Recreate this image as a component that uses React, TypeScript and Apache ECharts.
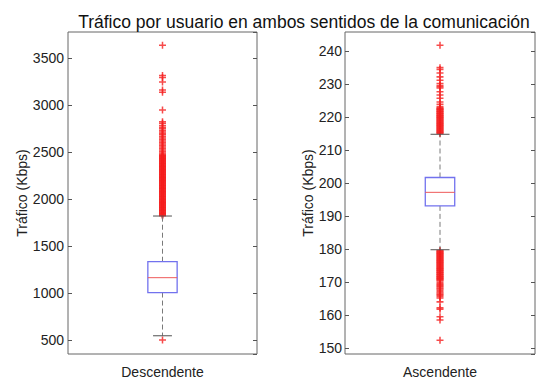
import React, { useEffect, useRef } from "react";
import * as echarts from "echarts";

const titleText = "Tráfico por usuario en ambos sentidos de la comunicación";
const yName = "Tráfico (Kbps)";
const catDown = ["Descendente"];
const catUp = ["Ascendente"];

// [lower whisker, Q1, median, Q3, upper whisker]
const boxDown = [545, 1005, 1163, 1333, 1819];
const boxUp = [179.8, 193.1, 197.2, 201.7, 214.8];

const outDown = [
  500, 3636, 3315, 3292, 3245, 3160, 3135, 2947, 2823, 2805, 2782, 2763, 2748, 2728, 2712,
  2698, 2684, 2666, 2650, 2633, 2618, 2601, 2586, 2569, 2553, 2538, 2521, 2506, 2490, 2477,
  2466, 2459, 2452, 2446, 2440, 2433, 2427, 2420, 2414, 2407, 2401, 2394, 2388, 2381, 2375,
  2368, 2362, 2355, 2349, 2342, 2336, 2329, 2323, 2316, 2310, 2303, 2297, 2290, 2284, 2277,
  2271, 2264, 2258, 2251, 2245, 2238, 2232, 2225, 2219, 2212, 2206, 2199, 2193, 2186, 2180,
  2173, 2167, 2160, 2154, 2147, 2141, 2134, 2128, 2121, 2115, 2108, 2102, 2095, 2089, 2082,
  2076, 2069, 2063, 2056, 2050, 2043, 2037, 2030, 2024, 2017, 2011, 2004, 1998, 1991, 1985,
  1978, 1972, 1965, 1959, 1952, 1946, 1939, 1933, 1926, 1920, 1913, 1907, 1900, 1894, 1887,
  1881, 1874, 1868, 1861, 1855, 1848, 1842, 1835, 1829, 1823,
];
const outUp = [
  241.8, 235.0, 234.4, 233.4, 232.2, 231.2, 230.2, 229.6, 229.2, 228.8, 227.7, 226.7, 225.7,
  224.6, 223.9, 223.2, 222.8, 222.6, 222.4, 222.2, 222.0, 221.8, 221.6, 221.4, 221.2, 221.0,
  220.8, 220.6, 220.4, 220.2, 220.0, 219.8, 219.6, 219.4, 219.2, 219.0, 218.8, 218.6, 218.4,
  218.2, 218.0, 217.8, 217.6, 217.4, 217.2, 217.0, 216.8, 216.6, 216.4, 216.2, 216.0, 215.8,
  215.6, 215.4, 215.2, 215.0,
  179.6, 179.4, 179.2, 179.0, 178.8, 178.6, 178.4, 178.2, 178.0, 177.8, 177.6, 177.4, 177.2,
  177.0, 176.8, 176.6, 176.4, 176.2, 176.0, 175.8, 175.6, 175.4, 175.2, 175.0, 174.8, 174.6,
  174.4, 174.2, 174.0, 173.8, 173.6, 173.4, 173.2, 173.0, 172.8, 172.6, 172.4, 172.2, 172.0,
  171.8, 171.6, 171.4, 171.2, 171.0, 170.8, 170.6, 170.3, 169.9, 169.5, 169.2, 168.9, 168.6,
  168.2, 167.9, 167.5, 167.1, 166.7, 166.3, 166.0, 165.6, 165.2, 164.0, 162.2, 161.8, 159.5,
  158.5, 152.4,
];

const FONT = "Liberation Sans, Arial, sans-serif";
const PLUS = "path://M2.35,0H3.65V2.35H6V3.65H3.65V6H2.35V3.65H0V2.35H2.35Z";

function renderBox(params: any, api: any) {
  const x = api.value(0);
  const lo = api.coord([x, api.value(1)]);
  const q1 = api.coord([x, api.value(2)]);
  const md = api.coord([x, api.value(3)]);
  const q3 = api.coord([x, api.value(4)]);
  const hi = api.coord([x, api.value(5)]);
  const band = api.size([1, 0])[0];
  const half = (band * 0.155) / 2;
  const cap = band * 0.05;
  const cx = lo[0];
  const dash = { stroke: "#7a7a7a", lineWidth: 1, lineDash: [5, 3] };
  const capStyle = { stroke: "#505050", lineWidth: 1 };
  return {
    type: "group",
    children: [
      { type: "line", shape: { x1: cx, y1: q3[1], x2: cx, y2: hi[1] }, style: dash },
      { type: "line", shape: { x1: cx, y1: q1[1], x2: cx, y2: lo[1] }, style: dash },
      { type: "line", shape: { x1: cx - cap, y1: hi[1], x2: cx + cap, y2: hi[1] }, style: capStyle },
      { type: "line", shape: { x1: cx - cap, y1: lo[1], x2: cx + cap, y2: lo[1] }, style: capStyle },
      {
        type: "rect",
        shape: { x: cx - half, y: q3[1], width: half * 2, height: q1[1] - q3[1] },
        style: { fill: "none", stroke: "#7272ee", lineWidth: 1.3 },
      },
      { type: "line", shape: { x1: cx - half, y1: md[1], x2: cx + half, y2: md[1] }, style: { stroke: "#ee5a5a", lineWidth: 1 } },
    ],
  };
}

export default function App() {
  const ref = useRef<HTMLDivElement>(null);
  useEffect(() => {
    if (!ref.current) return;
    const chart = echarts.init(ref.current, undefined, { renderer: "svg" });
    const yBase = (gi: number, min: number, max: number, split: number, margin: number, gap: number) => ({
      type: "value",
      gridIndex: gi,
      min,
      max,
      splitNumber: split,
      name: yName,
      nameLocation: "middle",
      nameGap: gap,
      nameTextStyle: { fontFamily: FONT, fontSize: 14, color: "#222" },
      axisLine: { show: false },
      axisTick: { show: true, inside: true, length: 4, lineStyle: { color: "#555" } },
      splitLine: { show: false },
      axisLabel: {
        fontFamily: FONT,
        fontSize: 14,
        color: "#222",
        margin,
        showMinLabel: false,
        showMaxLabel: false,
        formatter: (v: number) => String(v),
      },
    });
    const yRight = (gi: number, min: number, max: number, split: number) => ({
      type: "value",
      gridIndex: gi,
      position: "right",
      min,
      max,
      splitNumber: split,
      axisLine: { show: false },
      axisTick: { show: true, inside: true, length: 4, lineStyle: { color: "#555" } },
      splitLine: { show: false },
      axisLabel: { show: false },
    });
    const xBase = (gi: number, data: string[]) => ({
      type: "category",
      gridIndex: gi,
      data,
      axisLine: { show: false },
      axisTick: { show: false },
      axisLabel: { fontFamily: FONT, fontSize: 14, color: "#222", margin: 11 },
    });
    chart.setOption({
      animation: false,
      backgroundColor: "#fff",
      title: {
        text: titleText,
        left: 299,
        top: 8,
        textAlign: "center",
        textStyle: { fontFamily: FONT, fontSize: 17.5, fontWeight: "normal", color: "#111" },
      },
      grid: [
        { left: 68, top: 32, width: 189, height: 322, show: true, borderColor: "#666", borderWidth: 1 },
        { left: 345, top: 32, width: 190, height: 322, show: true, borderColor: "#666", borderWidth: 1 },
      ],
      xAxis: [xBase(0, catDown), xBase(1, catUp)],
      yAxis: [
        yBase(0, 351, 3777, 7, 4, 30),
        yBase(1, 148.2, 245.8, 9, 3, 30),
        yRight(0, 351, 3777, 7),
        yRight(1, 148.2, 245.8, 9),
      ],
      series: [
        {
          type: "scatter",
          xAxisIndex: 0,
          yAxisIndex: 0,
          symbol: PLUS,
          symbolSize: 7,
          itemStyle: { color: "#f51e1e" },
          data: outDown.map((v) => [0, v]),
          z: 2,
        },
        {
          type: "scatter",
          xAxisIndex: 1,
          yAxisIndex: 1,
          symbol: PLUS,
          symbolSize: 7,
          itemStyle: { color: "#f51e1e" },
          data: outUp.map((v) => [0, v]),
          z: 2,
        },
        {
          type: "custom",
          xAxisIndex: 0,
          yAxisIndex: 0,
          renderItem: renderBox,
          data: [[0, ...boxDown]],
          z: 3,
        },
        {
          type: "custom",
          xAxisIndex: 1,
          yAxisIndex: 1,
          renderItem: renderBox,
          data: [[0, ...boxUp]],
          z: 3,
        },
      ],
    });
    return () => chart.dispose();
  }, []);
  return (
    <div
      ref={ref}
      style={{ position: "fixed", left: 0, top: 0, width: 540, height: 380, background: "#fff" }}
    />
  );
}
